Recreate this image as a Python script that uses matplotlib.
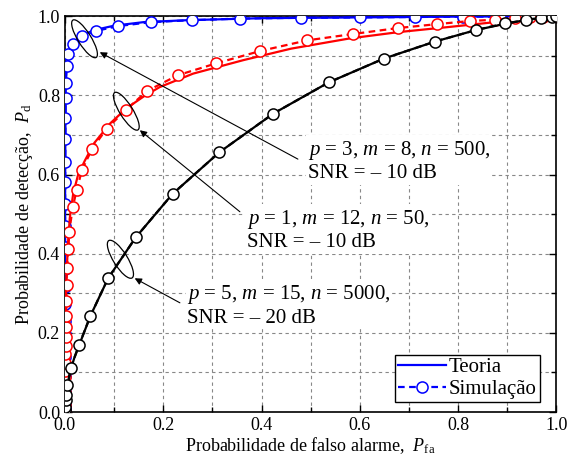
import matplotlib
matplotlib.use("Agg")
import matplotlib.pyplot as plt
from matplotlib.patches import Ellipse
from matplotlib.transforms import ScaledTranslation
from matplotlib.ticker import MultipleLocator, FormatStrFormatter

plt.rcParams["font.family"] = "Liberation Serif"
plt.rcParams["mathtext.fontset"] = "custom"
plt.rcParams["mathtext.rm"] = "Liberation Serif"
plt.rcParams["mathtext.it"] = "Liberation Serif:italic"

# ── data ─────────────────────────────────────────────────────────────────────
# p = 3, m = 8, n = 500, SNR = -10 dB
blue_th_x = [0, 0.0005, 0.001, 0.002, 0.004, 0.007, 0.012, 0.02, 0.035, 0.06,
             0.1, 0.16, 0.25, 0.4, 0.6, 0.8, 1.0]
blue_th_y = [0, 0.55, 0.7, 0.84, 0.875, 0.9, 0.92, 0.935, 0.952, 0.965,
             0.976, 0.985, 0.99, 0.995, 0.997, 0.999, 1.0]
blue_sim_x = [0, 0, 0, 0, 0, 0, 0, 0, 0, 0, 0, 0, 0, 0.0001, 0.0001, 0.0002,
              0.0003, 0.0004, 0.0005, 0.0006, 0.0008, 0.001, 0.0012, 0.0015,
              0.002, 0.0035, 0.007, 0.017, 0.034, 0.064, 0.108, 0.175, 0.259,
              0.356, 0.481, 0.6, 0.713, 0.81, 0.886, 0.935, 0.97, 1.0]
blue_sim_y = [0, 0.005, 0.012, 0.022, 0.035, 0.05, 0.068, 0.09, 0.115, 0.14,
              0.168, 0.197, 0.231, 0.273, 0.315, 0.361, 0.416, 0.47, 0.525,
              0.58, 0.632, 0.691, 0.744, 0.793, 0.832, 0.874, 0.904, 0.929,
              0.95, 0.963, 0.975, 0.985, 0.99, 0.994, 0.996, 0.997, 0.998,
              0.999, 0.999, 1.0, 1.0, 1.0]

# p = 1, m = 12, n = 50, SNR = -10 dB
red_th_x = [0, 0.001, 0.003, 0.006, 0.01, 0.017, 0.027, 0.041, 0.06, 0.092,
            0.125, 0.16, 0.193, 0.261, 0.363, 0.46, 0.58, 0.68, 0.783, 0.89, 1.0]
red_th_y = [0, 0.2, 0.33, 0.42, 0.49, 0.552, 0.6, 0.636, 0.68, 0.729,
            0.767, 0.797, 0.821, 0.855, 0.889, 0.918, 0.944, 0.96, 0.973, 0.987, 1.0]
red_sim_x = [0, 0, 0, 0, 0.0003, 0.0005, 0.0007, 0.001, 0.0012, 0.0015, 0.0018,
             0.002, 0.0025, 0.003, 0.0035, 0.004, 0.007, 0.009, 0.016, 0.024,
             0.035, 0.055, 0.085, 0.124, 0.167, 0.23, 0.308, 0.397, 0.493,
             0.586, 0.677, 0.757, 0.825, 0.874, 0.915, 0.946, 0.973, 1.0]
red_sim_y = [0, 0.017, 0.035, 0.051, 0.071, 0.088, 0.104, 0.125, 0.146, 0.167,
             0.189, 0.214, 0.243, 0.281, 0.32, 0.363, 0.412, 0.456, 0.517, 0.561,
             0.612, 0.664, 0.716, 0.763, 0.811, 0.851, 0.881, 0.912, 0.939,
             0.955, 0.97, 0.98, 0.988, 0.991, 0.995, 0.997, 0.999, 1.0]

# p = 5, m = 15, n = 5000, SNR = -20 dB
black_th_x = [0, 0.001, 0.003, 0.007, 0.012, 0.02, 0.03, 0.052, 0.088, 0.144,
              0.219, 0.314, 0.424, 0.537, 0.649, 0.753, 0.836, 0.9, 0.95, 1.0]
black_th_y = [0, 0.015, 0.04, 0.075, 0.108, 0.14, 0.172, 0.243, 0.338, 0.441,
              0.551, 0.656, 0.754, 0.833, 0.893, 0.936, 0.965, 0.982, 0.993, 1.0]
black_sim_x = [0, 0.0005, 0.001, 0.002, 0.003, 0.005, 0.012, 0.029, 0.052,
               0.088, 0.144, 0.219, 0.314, 0.424, 0.537, 0.649, 0.753, 0.836,
               0.896, 0.938, 0.968, 0.99, 1.0]
black_sim_y = [0, 0.006, 0.013, 0.03, 0.043, 0.068, 0.111, 0.17, 0.243,
               0.338, 0.441, 0.551, 0.656, 0.754, 0.833, 0.893, 0.936, 0.965,
               0.982, 0.99, 0.995, 0.998, 1.0]

labels = ["$p$ = 3, $m$ = 8, $n$ = 500,\nSNR = – 10 dB",
          "$p$ = 1, $m$ = 12, $n$ = 50,\nSNR = – 10 dB",
          "$p$ = 5, $m$ = 15, $n$ = 5000,\nSNR = – 20 dB"]

fig = plt.figure(figsize=(5.69, 4.63), dpi=100)
ax = fig.add_axes([0.114, 0.110, 0.864, 0.855])

series = [
    ("#0000ff", blue_th_x, blue_th_y, blue_sim_x, blue_sim_y),
    ("#ff0000", red_th_x, red_th_y, red_sim_x, red_sim_y),
    ("#000000", black_th_x, black_th_y, black_sim_x, black_sim_y),
]
for i, (c, tx, ty, sx, sy) in enumerate(series):
    ax.plot(tx, ty, "-", color=c, lw=1.6, zorder=3 + i,
            label="Teoria" if i == 0 else None)
    ax.plot(sx, sy, "--", color=c, lw=1.6, marker="o", markersize=8,
            markerfacecolor="white", markeredgecolor=c, markeredgewidth=1.1,
            dashes=(3, 2), zorder=3 + i,
            label="Simulação" if i == 0 else None)

ax.set_xlim(0, 1)
ax.set_ylim(0, 1)
ax.xaxis.set_major_locator(MultipleLocator(0.2))
ax.yaxis.set_major_locator(MultipleLocator(0.2))
ax.xaxis.set_minor_locator(MultipleLocator(0.1))
ax.yaxis.set_minor_locator(MultipleLocator(0.1))
ax.xaxis.set_major_formatter(FormatStrFormatter("%.1f"))
ax.yaxis.set_major_formatter(FormatStrFormatter("%.1f"))
ax.tick_params(which="both", direction="in", top=True, right=True,
               labelsize=13, width=1)
ax.tick_params(which="major", length=5)
ax.tick_params(which="minor", length=3.5)
ax.grid(which="both", color="#888888", linestyle=(0, (3, 3)), linewidth=0.8)
for s in ax.spines.values():
    s.set_linewidth(1.2)

ax.set_xlabel("Probabilidade de falso alarme,  $P_{\\mathrm{fa}}$", fontsize=13,
              labelpad=1)
ax.set_ylabel("Probabilidade de detecção,  $P_{\\mathrm{d}}$", fontsize=13,
              labelpad=2)

# ── annotations: ellipses, arrows, labels ────────────────────────────────────
ell_centers = [(0.040, 0.943), (0.125, 0.760), (0.113, 0.386)]
ell_widths = [0.13, 0.13, 0.14]
arrow_tips = [(0.071, 0.909), (0.1525, 0.712), (0.142, 0.338)]
arrow_tails = [(0.474, 0.639), (0.356, 0.506), (0.234, 0.276)]
text_pos = [(0.494, 0.634), (0.370, 0.460), (0.249, 0.270)]

for (cx, cy), w, tip, tail, tpos, lab in zip(ell_centers, ell_widths, arrow_tips,
                                              arrow_tails, text_pos, labels):
    tr = fig.dpi_scale_trans + ScaledTranslation(cx, cy, ax.transData)
    ax.add_patch(Ellipse((0, 0), w, 0.44, angle=32, transform=tr, fill=False,
                         ec="k", lw=0.9, zorder=8))
    ax.annotate("", xy=tip, xytext=tail,
                arrowprops=dict(arrowstyle="-|>", color="k", lw=0.8,
                                mutation_scale=10, shrinkA=0, shrinkB=0),
                zorder=8)
    ax.text(tpos[0], tpos[1], lab, fontsize=15, ha="left", va="center",
            linespacing=1.2, zorder=9,
            bbox=dict(facecolor="white", edgecolor="none", pad=1))

leg = ax.legend(loc="lower right", bbox_to_anchor=(0.966, 0.025), fontsize=15,
                handlelength=2.3, handletextpad=0.15, borderpad=0.15,
                labelspacing=0.1, fancybox=False, framealpha=1,
                edgecolor="black", borderaxespad=0)
leg.get_frame().set_linewidth(1.0)
leg.set_zorder(10)

fig.savefig("out.png", dpi=100)
